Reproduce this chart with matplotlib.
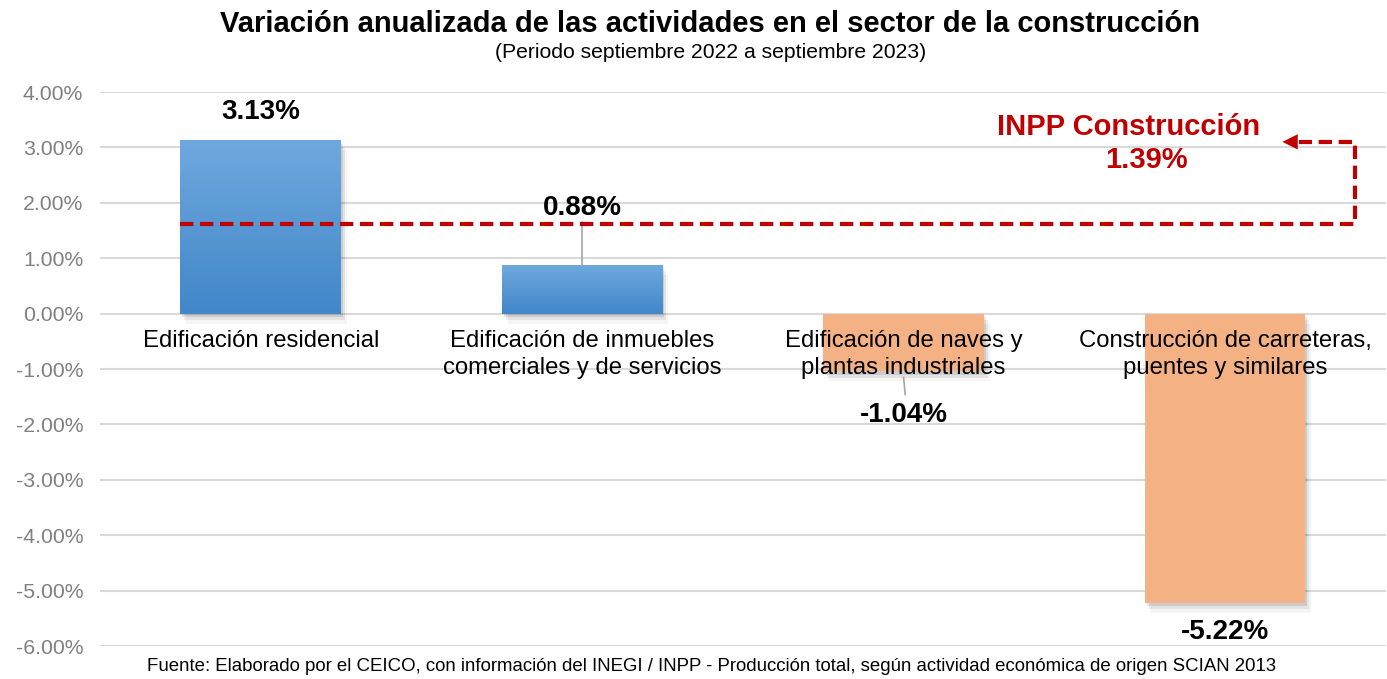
import numpy as np
import matplotlib.pyplot as plt
from matplotlib.colors import LinearSegmentedColormap
from matplotlib.patches import Rectangle

plt.rcParams["font.family"] = ["Liberation Sans", "DejaVu Sans"]

# data
categories = [
    "Edificación residencial",
    "Edificación de inmuebles\ncomerciales y de servicios",
    "Edificación de naves y\nplantas industriales",
    "Construcción de carreteras,\npuentes y similares",
]
values = [3.13, 0.88, -1.04, -5.22]
inpp_value = 1.39
inpp_line_level = 1.62  # where the reference draws the dashed reference line
yticks = [4, 3, 2, 1, 0, -1, -2, -3, -4, -5, -6]

title = "Variación anualizada de las actividades en el sector de la construcción"
subtitle = "(Periodo septiembre 2022 a septiembre 2023)"
footer = ("Fuente: Elaborado por el CEICO, con información del INEGI / INPP - "
          "Producción total, según actividad económica de origen SCIAN 2013")

blue_cmap = LinearSegmentedColormap.from_list("blue", ["#4187ca", "#6fa8dd"])
orange = "#f4b183"
red = "#c00000"
width = 0.5

fig = plt.figure(figsize=(13.87, 6.79), dpi=100)
ax = fig.add_axes([0.0721, 0.0486, 0.927, 0.8159])
ax.set_xlim(-0.5, 3.5)
ax.set_ylim(-6, 4)

ax.set_yticks(yticks)
ax.set_yticklabels(["%.2f%%" % t for t in yticks])
ax.tick_params(axis="y", length=0, labelsize=15.3, labelcolor="#808080", pad=12)
ax.set_xticks([])
for s in ax.spines.values():
    s.set_visible(False)
ax.grid(axis="y", color="#d9d9d9", lw=1.5, zorder=0)
ax.set_axisbelow(True)

grad = np.linspace(0, 1, 256).reshape(-1, 1)
for i, v in enumerate(values):
    x0 = i - width / 2
    lo, hi = min(0, v), max(0, v)
    # soft shadow
    for k, a in enumerate([0.10, 0.07, 0.04]):
        d = 0.006 * (k + 1)
        ax.add_patch(Rectangle((x0 + d, lo - 0.06 * (k + 1)), width, hi - lo,
                               color="#000000", alpha=a, lw=0, zorder=1))
    if v > 0:
        ax.imshow(grad, extent=(x0, x0 + width, lo, hi), cmap=blue_cmap,
                  aspect="auto", origin="lower", zorder=2)
    else:
        ax.add_patch(Rectangle((x0, lo), width, hi - lo, color=orange, lw=0, zorder=2))

# category labels below zero line
for i, c in enumerate(categories):
    ax.text(i, -0.29, c, ha="center", va="top", fontsize=17.2, color="#000000",
            linespacing=1.3, zorder=5)

# value labels
val_pos = [(0, 3.64), (1, 1.90), (2, -1.83), (3, -5.75)]
for (x, y), v in zip(val_pos, values):
    ax.text(x, y, "%.2f%%" % v, ha="center", va="center", fontsize=20,
            fontweight="bold", color="#000000", zorder=6)
ax.plot([1, 1], [1.65, 0.88], color="#a6a6a6", lw=1.2, zorder=3)
ax.plot([2.0, 2.005], [-1.15, -1.46], color="#a6a6a6", lw=1.2, zorder=3)

# INPP reference line and arrow
ax.plot([-0.25, 3.405, 3.405, 3.23], [inpp_line_level, inpp_line_level, 3.10, 3.10],
        color=red, lw=3, dashes=(3.2, 1.6), zorder=4)
ax.annotate("", xy=(3.17, 3.10), xytext=(3.24, 3.10),
            arrowprops=dict(arrowstyle="-|>,head_length=1.1,head_width=0.55",
                            color=red, lw=0), zorder=4)
ax.text(2.70, 3.36, "INPP Construcción", ha="center", va="center", fontsize=21,
        fontweight="bold", color=red, zorder=6)
ax.text(2.755, 2.77, "%.2f%%" % inpp_value, ha="center", va="center", fontsize=21,
        fontweight="bold", color=red, zorder=6)

fig.text(0.512, 0.965, title, ha="center", va="center", fontsize=21, fontweight="bold")
fig.text(0.512, 0.922, subtitle, ha="center", va="center", fontsize=15.2)
fig.text(0.513, 0.019, footer, ha="center", va="center", fontsize=13.4)

fig.savefig("out.png", dpi=100)
